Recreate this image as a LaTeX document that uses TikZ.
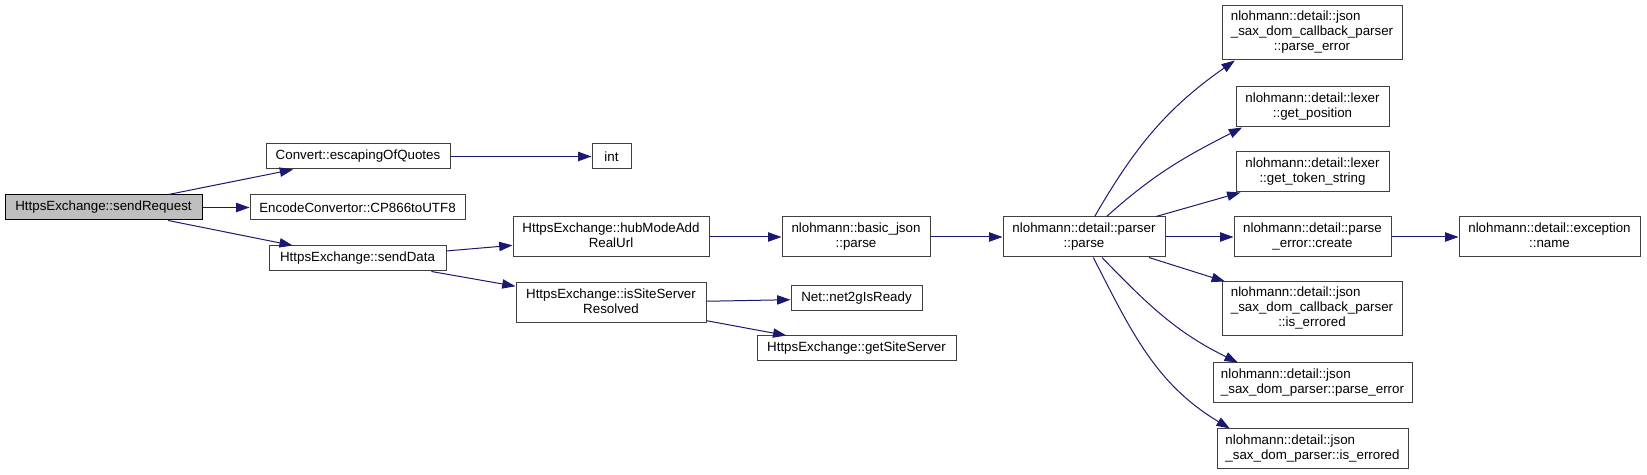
\documentclass[tikz,border=0pt]{standalone}
\usepackage{fontspec}
\setmainfont{Liberation Sans}
\usetikzlibrary{arrows.meta}
\definecolor{azulnoche}{RGB}{25,25,112}
\definecolor{gris25}{RGB}{64,64,64}
\definecolor{gris75}{RGB}{191,191,191}
\newcommand{\etq}[2]{\begin{tabular}{@{}l@{}}#1\\\multicolumn{1}{@{}c@{}}{#2}\end{tabular}}
\tikzset{
  funcion/.style={draw=gris25, line width=0.75pt, rectangle, inner sep=0pt, align=center, fill=white, font=\fontsize{10}{11.25}\selectfont, minimum height=18.75pt},
  actual/.style={funcion, draw=black, fill=gris75},
  dos/.style={minimum height=30pt},
  tres/.style={minimum height=40.5pt},
  fl/.style={-{Triangle[length=10pt,width=7pt]}, line width=0.75pt, azulnoche},
}

\begin{document}
\begin{tikzpicture}[x=0.75pt, y=0.75pt]
  \useasboundingbox (0,0) rectangle (1647,475);
  \node[actual, minimum width=147.75pt] (req) at (103.5,267.5) {HttpsExchange::sendRequest};
  \node[funcion, minimum width=138pt] (conv) at (358,318.5) {Convert::escapingOfQuotes};
  \node[funcion, minimum width=161.25pt] (enc) at (357.5,267.5) {EncodeConvertor::CP866toUTF8};
  \node[funcion, minimum width=132.75pt] (snd) at (357.5,216.5) {HttpsExchange::sendData};
  \node[funcion, minimum width=29.25pt] (int) at (611.5,318.5) {int};
  \node[funcion, dos, minimum width=147pt] (hub) at (611,238) {\etq{HttpsExchange::hubModeAdd}{RealUrl}};
  \node[funcion, dos, minimum width=111pt] (bjs) at (856,238) {\etq{nlohmann::basic\_json}{::parse}};
  \node[funcion, dos, minimum width=142.5pt] (site) at (611,172) {\etq{HttpsExchange::isSiteServer}{Resolved}};
  \node[funcion, minimum width=98.25pt] (net) at (856.5,176.5) {Net::net2gIsReady};
  \node[funcion, minimum width=149.25pt] (gss) at (856.5,126.5) {HttpsExchange::getSiteServer};
  \node[funcion, dos, minimum width=121.5pt] (prs) at (1084,238) {\etq{nlohmann::detail::parser}{::parse}};
  \node[funcion, tres, minimum width=135pt] (cbpe) at (1312,442) {\etq{nlohmann::detail::json\\\_sax\_dom\_callback\_parser}{::parse\_error}};
  \node[funcion, dos, minimum width=114.75pt] (gpos) at (1312.5,368) {\etq{nlohmann::detail::lexer}{::get\_position}};
  \node[funcion, dos, minimum width=114.75pt] (gtok) at (1312.5,303) {\etq{nlohmann::detail::lexer}{::get\_token\_string}};
  \node[funcion, dos, minimum width=117.75pt] (pec) at (1312.5,238) {\etq{nlohmann::detail::parse}{\_error::create}};
  \node[funcion, dos, minimum width=135.75pt] (exn) at (1549.5,238) {\etq{nlohmann::detail::exception}{::name}};
  \node[funcion, tres, minimum width=135pt] (cbie) at (1312,166) {\etq{nlohmann::detail::json\\\_sax\_dom\_callback\_parser}{::is\_errored}};
  \node[funcion, dos, minimum width=149.25pt] (dpe) at (1312.5,92) {\etq{nlohmann::detail::json}{\_sax\_dom\_parser::parse\_error}};
  \node[funcion, dos, minimum width=143.25pt] (die) at (1312.5,26) {\etq{nlohmann::detail::json}{\_sax\_dom\_parser::is\_errored}};
  \draw[fl] (req)--(conv); \draw[fl] (req)--(enc); \draw[fl] (req)--(snd);
  \draw[fl] (conv)--(int);
  \draw[fl] (snd)--(hub); \draw[fl] (snd)--(site);
  \draw[fl] (hub)--(bjs); \draw[fl] (bjs)--(prs);
  \draw[fl] (site)--(net); \draw[fl] (site)--(gss);
  \draw[fl] ([xshift=8pt]prs.north) to[out=60,in=215] ([xshift=10pt]cbpe.south west);
  \draw[fl] ([xshift=17pt]prs.north) to[out=42,in=207] ([xshift=5pt]gpos.south west);
  \draw[fl] (prs)--(gtok); \draw[fl] (prs)--(pec); \draw[fl] (pec)--(exn);
  \draw[fl] (prs)--(cbie);
  \draw[fl] ([xshift=13.5pt]prs.south) to[out=-46,in=154] ([xshift=19pt]dpe.north west);
  \draw[fl] ([xshift=7pt]prs.south) to[out=-63,in=149] ([xshift=10pt]die.north west);
\end{tikzpicture}
\end{document}
